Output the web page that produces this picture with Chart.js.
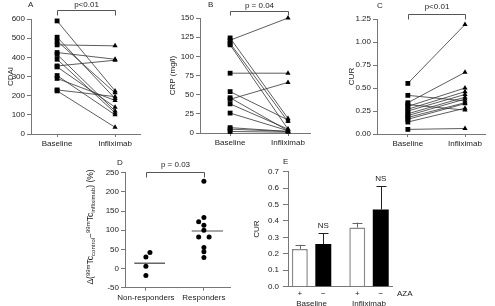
<!DOCTYPE html>
<html>
<head>
<meta charset="utf-8">
<script src="https://cdn.jsdelivr.net/npm/chart.js@4"></script>
<style>
  body { margin: 0; background: #fff; width: 495px; height: 306px; position: relative; overflow: hidden; }
  .p { position: absolute; }
</style>
</head>
<body>
<div class="p" style="left:0;top:0"><canvas id="cA" width="165" height="155"></canvas></div>
<div class="p" style="left:165px;top:0"><canvas id="cB" width="165" height="155"></canvas></div>
<div class="p" style="left:330px;top:0"><canvas id="cC" width="165" height="155"></canvas></div>
<div class="p" style="left:75px;top:150px"><canvas id="cD" width="170" height="156"></canvas></div>
<div class="p" style="left:245px;top:150px"><canvas id="cE" width="175" height="156"></canvas></div>
<script>
// values
var timepoints = ['Baseline', 'Infliximab'];
var cdaiBaseline   = [590, 505, 485, 465, 425, 415, 390, 355, 350, 305, 290, 230, 225];
var cdaiInfliximab = [225, 185, 215, 460, 390, 120, 110, 385, 140, 100, 175, 195, 35];
var crpBaseline    = [124, 121, 117, 115, 78, 54, 46, 44, 38, 26, 7, 5, 2];
var crpInfliximab  = [19, 150, 15, 5, 78, 17, 3, 66, 5, 3, 2, 2, 1];
var curBaseline    = [0.55, 0.42, 0.34, 0.32, 0.30, 0.27, 0.25, 0.22, 0.20, 0.18, 0.16, 0.13, 0.05];
var curInfliximab  = [1.19, 0.36, 0.67, 0.26, 0.50, 0.46, 0.43, 0.40, 0.38, 0.34, 0.33, 0.28, 0.06];

var groupsD = ['Non-responders', 'Responders'];
var nonResponders = [42, 30, 6, -18];
var responders = [228, 133, 122, 113, 100, 82, 82, 55, 44, 29];
var nonRespJitter = [0.07, 0, 0, 0];
var respJitter = [0, 0, -0.09, 0, 0, -0.09, 0.09, 0, 0, 0];
var medianD = [14, 98];

var groupsE = ['Baseline', 'Infliximab'];
var azaPlus = [0.23, 0.36];
var azaPlusErr = [0.025, 0.03];
var azaMinus = [0.26, 0.47];
var azaMinusErr = [0.065, 0.14];

var axisColor = '#777';
var textColor = '#222';
var fam = '"Liberation Sans", Arial, sans-serif';
Chart.defaults.font.family = fam;
Chart.defaults.font.size = 8;
Chart.defaults.color = textColor;

function decor(cfg) {
  return {
    id: 'decor',
    afterDraw: function (chart) {
      var c = chart.ctx, xs = chart.scales.x;
      c.save();
      c.fillStyle = textColor;
      c.font = '8px ' + fam;
      c.textBaseline = 'middle';
      c.textAlign = 'left';
      c.fillText(cfg.letter[0], cfg.letter[1], cfg.letter[2]);
      if (cfg.p) {
        var x0 = Math.round(xs.getPixelForValue(0)) + 0.5, x1 = Math.round(xs.getPixelForValue(1)) + 0.5;
        var y = cfg.p.y + 0.5;
        c.strokeStyle = '#555';
        c.lineWidth = 1;
        c.beginPath();
        c.moveTo(x0, y + cfg.p.drop); c.lineTo(x0, y); c.lineTo(x1, y); c.lineTo(x1, y + cfg.p.drop);
        c.stroke();
        c.textAlign = 'center';
        c.fillText(cfg.p.text, (x0 + x1) / 2, cfg.p.ty);
      }
      if (cfg.extra) cfg.extra(chart, c);
      c.restore();
    }
  };
}

function yAxis(o) {
  return {
    min: o.min, max: o.max,
    ticks: { stepSize: o.step, callback: o.fmt, padding: o.tickPad || 2, color: textColor },
    grid: { drawOnChartArea: false, tickLength: o.tickLen || 4, color: axisColor },
    border: { color: axisColor },
    title: o.title ? { display: true, text: o.title, color: textColor, padding: { top: o.titlePad, bottom: 0 } } : { display: false },
    afterFit: function (s) { s.width = o.width; }
  };
}

function xAxis(o) {
  return {
    type: 'linear', min: o.min, max: o.max, offset: false,
    afterBuildTicks: function (s) { s.ticks = [{ value: 0 }, { value: 1 }]; },
    ticks: { callback: function (v) { return o.labels[v]; }, padding: 2, maxRotation: 0, autoSkip: false, color: textColor },
    grid: { drawOnChartArea: false, tickLength: 3, color: axisColor },
    border: { color: axisColor },
    afterFit: function (s) { s.height = o.height; }
  };
}

function pairedChart(id, base, post, o) {
  var sets = base.map(function (b, i) {
    return {
      data: [{ x: 0, y: b }, { x: 1, y: post[i] }],
      showLine: true,
      borderColor: '#333',
      borderWidth: 0.8,
      pointStyle: ['rect', 'triangle'],
      pointRadius: [3.4, 3],
      pointBackgroundColor: '#000',
      pointBorderColor: '#000',
      pointBorderWidth: 0,
      clip: false
    };
  });
  return new Chart(document.getElementById(id), {
    type: 'scatter',
    data: { datasets: sets },
    options: {
      responsive: false, animation: false, devicePixelRatio: 1,
      layout: { padding: { left: 0, right: o.padR, top: o.padT, bottom: 0 } },
      plugins: { legend: { display: false }, tooltip: { enabled: false } },
      scales: {
        x: xAxis({ min: o.xmin, max: o.xmax, labels: timepoints, height: o.xh }),
        y: yAxis(o.y)
      }
    },
    plugins: [decor(o.decor)]
  });
}

pairedChart('cA', cdaiBaseline, cdaiInfliximab, {
  padR: 25, padT: 19, xh: 21, xmin: -0.45, xmax: 1.43,
  y: { min: 0, max: 600, step: 100, width: 31, title: 'CDAI', titlePad: 6 },
  decor: { letter: ['A', 28, 5], p: { text: 'p<0.01', y: 10, drop: 5, ty: 5 } }
});

pairedChart('cB', crpBaseline, crpInfliximab, {
  padR: 20, padT: 18, xh: 22, xmin: -0.52, xmax: 1.38,
  y: { min: 0, max: 150, step: 25, width: 35, title: 'CRP (mg/l)', titlePad: 3 },
  decor: { letter: ['B', 43, 5], p: { text: 'p = 0.04', y: 11, drop: 4, ty: 6 } }
});

pairedChart('cC', curBaseline, curInfliximab, {
  padR: 10, padT: 19, xh: 21, xmin: -0.54, xmax: 1.35,
  y: { min: 0, max: 1.25, step: 0.25, width: 47, title: 'CUR', titlePad: 17,
       fmt: function (v) { return v.toFixed(2); } },
  decor: { letter: ['C', 47, 6], p: { text: 'p<0.01', y: 14, drop: 5, ty: 7 } }
});

// panel D
function drawDeltaTitle(c, cx, cy) {
  var parts = [['\u0394(', 8.5, 0], ['99m', 6, -3], ['Tc', 8.5, 0], ['control', 6, 2.5],
               ['\u2212', 8.5, 0], ['99m', 6, -3], ['Tc', 8.5, 0], ['infliximab', 6, 2.5], [') (%)', 8.5, 0]];
  var total = 0;
  parts.forEach(function (p) { c.font = p[1] + 'px ' + fam; total += c.measureText(p[0]).width; });
  c.save();
  c.translate(cx, cy);
  c.rotate(-Math.PI / 2);
  c.textAlign = 'left';
  c.textBaseline = 'middle';
  c.fillStyle = textColor;
  var x = -total / 2;
  parts.forEach(function (p) {
    c.font = p[1] + 'px ' + fam;
    c.fillText(p[0], x, p[2]);
    x += c.measureText(p[0]).width;
  });
  c.restore();
}

new Chart(document.getElementById('cD'), {
  type: 'scatter',
  data: {
    datasets: [
      { data: nonResponders.map(function (v, i) { return { x: nonRespJitter[i], y: v }; }),
        pointRadius: 2.5, pointBackgroundColor: '#000', pointBorderWidth: 0, clip: false },
      { data: responders.map(function (v, i) { return { x: 1 + respJitter[i], y: v }; }),
        pointRadius: 2.5, pointBackgroundColor: '#000', pointBorderWidth: 0, clip: false },
      { data: [{ x: -0.2, y: medianD[0] }, { x: 0.33, y: medianD[0] }],
        showLine: true, pointRadius: 0, borderColor: '#666', borderWidth: 1.5 },
      { data: [{ x: 0.79, y: medianD[1] }, { x: 1.33, y: medianD[1] }],
        showLine: true, pointRadius: 0, borderColor: '#888', borderWidth: 1.5 }
    ]
  },
  options: {
    responsive: false, animation: false, devicePixelRatio: 1,
    layout: { padding: { left: 0, right: 15, top: 22.7, bottom: 0 } },
    plugins: { legend: { display: false }, tooltip: { enabled: false } },
    scales: {
      x: xAxis({ min: -0.36, max: 1.45, labels: groupsD, height: 18.3 }),
      y: yAxis({ min: -50, max: 250, step: 50, width: 50 })
    }
  },
  plugins: [decor({
    letter: ['D', 42, 13],
    p: { text: 'p = 0.03', y: 22, drop: 5, ty: 15 },
    extra: function (chart, c) { drawDeltaTitle(c, 16, 77); }
  })]
});

// panel E
new Chart(document.getElementById('cE'), {
  type: 'bar',
  data: {
    datasets: [
      { data: azaPlus.map(function (v, i) { return { x: i, y: v }; }),
        backgroundColor: '#fff', borderColor: '#888', borderWidth: 1.5 },
      { data: azaMinus.map(function (v, i) { return { x: i, y: v }; }),
        backgroundColor: '#000', borderColor: '#000', borderWidth: 0 }
    ]
  },
  options: {
    responsive: false, animation: false, devicePixelRatio: 1,
    categoryPercentage: 0.817, barPercentage: 0.68,
    layout: { padding: { left: 0, right: 28, top: 21.7, bottom: 0 } },
    plugins: { legend: { display: false }, tooltip: { enabled: false } },
    scales: {
      x: {
        type: 'linear', min: -0.41, max: 1.4, offset: false,
        ticks: { display: false },
        grid: { display: false },
        border: { color: axisColor },
        afterFit: function (s) { s.height = 19.3; }
      },
      y: yAxis({ min: 0, max: 0.7, step: 0.1, width: 43, title: 'CUR', titlePad: 7, tickPad: 4, tickLen: 5,
                 fmt: function (v) { return v.toFixed(1); } })
    }
  },
  plugins: [decor({
    letter: ['E', 38, 12],
    extra: function (chart, c) {
      var ys = chart.scales.y, xs = chart.scales.x;
      var vals = [azaPlus, azaMinus], errs = [azaPlusErr, azaMinusErr], signs = ['+', '\u2212'];
      c.lineWidth = 1;
      [0, 1].forEach(function (d) {
        var meta = chart.getDatasetMeta(d);
        meta.data.forEach(function (el, i) {
          var x = Math.round(el.x) + 0.5;
          var top = ys.getPixelForValue(vals[d][i] + errs[d][i]);
          c.strokeStyle = d ? '#222' : '#666';
          c.beginPath();
          c.moveTo(x, el.y); c.lineTo(x, top);
          c.moveTo(x - 5, Math.round(top) + 0.5); c.lineTo(x + 5, Math.round(top) + 0.5);
          c.stroke();
          c.textAlign = 'center';
          c.font = '8px ' + fam;
          c.fillText(signs[d], el.x, chart.chartArea.bottom + 7);
          if (d === 1) c.fillText('NS', el.x, top - 8);
        });
      });
      groupsE.forEach(function (g, i) {
        c.fillText(g, xs.getPixelForValue(i), chart.chartArea.bottom + 17);
      });
      c.textAlign = 'left';
      c.fillText('AZA', chart.chartArea.right + 5, chart.chartArea.bottom + 7);
    }
  })]
});
</script>
</body>
</html>
